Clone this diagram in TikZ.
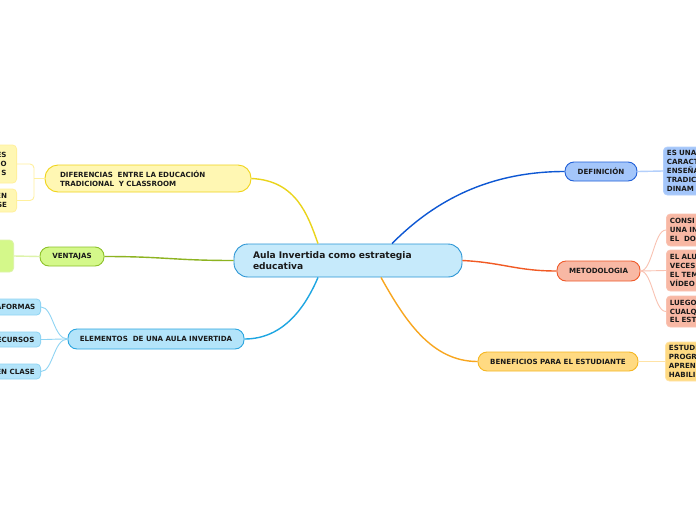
\documentclass[tikz,border=0pt]{standalone}
\usepackage{fontspec}
\setmainfont{DejaVu Sans}
\usetikzlibrary{calc}
\definecolor{txt}{HTML}{1A1A1A}
\definecolor{cenfill}{HTML}{C6EAFB}\definecolor{cendraw}{HTML}{2A95D5}
\definecolor{deffill}{HTML}{A4C6FA}\definecolor{defdraw}{HTML}{2160D8}\definecolor{defline}{HTML}{0D57D3}\definecolor{defsub}{HTML}{B3CFFB}
\definecolor{metfill}{HTML}{F8B8A4}\definecolor{metdraw}{HTML}{EF5A2A}\definecolor{metline}{HTML}{F15A24}\definecolor{metsub}{HTML}{F9C2B2}
\definecolor{benfill}{HTML}{FFDA82}\definecolor{bendraw}{HTML}{F5B622}\definecolor{benline}{HTML}{F8A61F}\definecolor{bensub}{HTML}{FFE3A6}
\definecolor{diffill}{HTML}{FFF7B3}\definecolor{difdraw}{HTML}{F0D41A}\definecolor{difline}{HTML}{EAD41B}\definecolor{difsub}{HTML}{FFF09C}
\definecolor{venfill}{HTML}{D4F88A}\definecolor{vendraw}{HTML}{8DC12A}\definecolor{venline}{HTML}{8DB320}\definecolor{vensub}{HTML}{DDF3AA}
\definecolor{elefill}{HTML}{B3E4FA}\definecolor{eledraw}{HTML}{2AA5DF}\definecolor{eleline}{HTML}{1EA6E2}\definecolor{elesub}{HTML}{8FD4F3}
\tikzset{
  lbl/.style={font=\fontsize{7.1}{8.9}\selectfont\bfseries, text=txt},
  mainbox/.style={lbl, draw, line width=0.9pt, inner sep=0pt, rounded corners=9pt},
  subbox/.style={lbl, draw, line width=0.8pt, inner sep=0pt, rounded corners=4pt},
  rightsub/.style={subbox, anchor=west, minimum width=60pt, inner xsep=3.5pt, text width=53pt, align=left},
  leftsub/.style={subbox, anchor=east, align=right, inner xsep=4pt},
  mainline/.style={line width=1.4pt},
  subline/.style={line width=0.9pt},
}
\begin{document}
\begin{tikzpicture}[x=1pt,y=-1pt]
\clip (0,0) rectangle (696,520);
\fill[white] (0,0) rectangle (696,520);

% central
\node[mainbox, fill=cenfill, draw=cendraw, rounded corners=14pt, minimum height=33pt,
      inner xsep=19pt, text width=190pt, align=left,
      font=\fontsize{9.1}{11}\selectfont\bfseries] (cen) at (348,260.5)
      {Aula Invertida como estrategia\\educativa};

% main branches
\node[mainbox, fill=deffill, draw=defdraw, minimum width=72pt, minimum height=19pt] (defn) at (601,171.5) {DEFINICIÓN};
\node[mainbox, fill=metfill, draw=metdraw, minimum width=83pt, minimum height=20pt] (met) at (598.5,271) {METODOLOGIA};
\node[mainbox, fill=benfill, draw=bendraw, minimum width=160pt, minimum height=19pt] (ben) at (558,361.5) {BENEFICIOS PARA EL ESTUDIANTE};
\node[mainbox, fill=diffill, draw=difdraw, rounded corners=13pt, minimum height=27pt,
      inner xsep=15pt, text width=176pt, align=left] (dif) at (148,178.5)
      {DIFERENCIAS\ \ ENTRE LA EDUCACIÓN\\TRADICIONAL\ \ Y CLASSROOM};
\node[mainbox, fill=venfill, draw=vendraw, minimum width=64pt, minimum height=19pt] (ven) at (72,256.5) {VENTAJAS};
\node[mainbox, fill=elefill, draw=eledraw, minimum width=176pt, minimum height=20pt] (ele) at (156,339) {ELEMENTOS\ \ DE UNA AULA INVERTIDA};

% right sub nodes
\node[rightsub, fill=deffill, draw=defsub, minimum height=48pt] (defa) at (663,171)
  {ES UNA\\CARACT\\ENSEÑA\\TRADIC\\DINAM};
\node[rightsub, fill=metfill, draw=metsub, minimum height=32pt] (meta) at (666,230)
  {CONSI\\UNA IN\\EL\ \ DO};
\node[rightsub, fill=metfill, draw=metsub, minimum height=41pt] (metb) at (666,270.5)
  {EL ALU\\VECES\\EL TEM\\VÍDEO};
\node[rightsub, fill=metfill, draw=metsub, minimum height=31pt] (metc) at (666,311.5)
  {LUEGO\\CUALQ\\EL EST};
\node[rightsub, fill=benfill, draw=bensub, minimum height=39pt] (bena) at (665,361.5)
  {ESTUDI\\PROGR\\APREN\\HABILI};

% left sub nodes
\node[leftsub, fill=diffill, draw=difsub, minimum width=30pt, minimum height=38pt] (difa) at (17,164)
  {ES\hspace{4pt}\\O\hspace{9pt}\\S\hspace{12pt}};
\node[leftsub, fill=diffill, draw=difsub, minimum width=30pt, minimum height=23pt] (difb) at (17,200.5)
  {EN\hspace{2pt}\\SE\hspace{5pt}};
\node[leftsub, fill=venfill, draw=vensub, minimum width=30pt, minimum height=32pt] (vena) at (14,256) {};
\node[leftsub, fill=elefill, draw=elesub, minimum width=50pt, minimum height=16pt] (elea) at (41,307) {AFORMAS};
\node[leftsub, fill=elefill, draw=elesub, minimum width=50pt, minimum height=15pt] (eleb) at (41,339.5) {ECURSOS};
\node[leftsub, fill=elefill, draw=elesub, minimum width=50pt, minimum height=15pt] (elec) at (41,371.5) {EN CLASE};

% main connectors
\draw[mainline, difline] (dif.east) .. controls ($(dif.east)+(45,2)$) and ($([xshift=-30pt]cen.north)+(-10,-28)$) .. ([xshift=-30pt]cen.north);
\draw[mainline, defline] ([xshift=44pt]cen.north) .. controls ($([xshift=44pt]cen.north)+(30,-30)$) and ($(defn.west)+(-90,0)$) .. (defn.west);
\draw[mainline, metline] (cen.east) .. controls ($(cen.east)+(40,2)$) and ($(met.west)+(-40,0)$) .. (met.west);
\draw[mainline, benline] ([xshift=33pt]cen.south) .. controls ($([xshift=33pt]cen.south)+(25,45)$) and ($(ben.west)+(-45,0)$) .. (ben.west);
\draw[mainline, venline] (ven.east) .. controls ($(ven.east)+(60,0)$) and ($(cen.west)+(-60,0)$) .. (cen.west);
\draw[mainline, eleline] ([xshift=-30pt]cen.south) .. controls ($([xshift=-30pt]cen.south)+(-12,28)$) and ($(ele.east)+(40,0)$) .. (ele.east);

% sub connectors
\draw[subline, defsub, line width=1.4pt] (defn.east) -- (defa.west);
\foreach \t in {meta,metb,metc}
  \draw[subline, metsub] (met.east) .. controls ($(met.east)+(12,0)$) and ($(\t.west)+(-12,0)$) .. (\t.west);
\draw[subline, bensub, line width=1.4pt] (ben.east) -- (bena.west);
\foreach \t in {elea,eleb,elec}
  \draw[subline, elesub] (ele.west) .. controls ($(ele.west)+(-14,0)$) and ($(\t.east)+(12,0)$) .. (\t.east);
\draw[subline, vensub, line width=1.4pt] (ven.west) -- (vena.east);
\draw[subline, difsub, rounded corners=4pt] (difa.east) -- ($(difa.east)+(17,0)$) -- ($(difb.east)+(17,0)$) -- (difb.east);
\draw[subline, difsub] (dif.west) -- ($(dif.west)+(-11,0)$);
\end{tikzpicture}
\end{document}
